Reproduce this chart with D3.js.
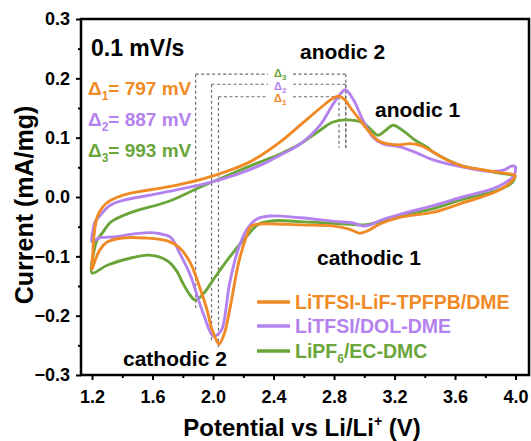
<!DOCTYPE html>
<html>
<head>
<meta charset="utf-8">
<script src="https://cdn.jsdelivr.net/npm/d3@7"></script>
<style>
    html, body { margin: 0; padding: 0; background: #fff; }
    svg text { font-family: "Liberation Sans", Arial, sans-serif; font-weight: bold; }
</style>
</head>
<body>
<div class="cv-graph"></div>
<script>
// series names and colours
const seriesNames = ["LiTFSI-LiF-TPFPB/DME", "LiTFSI/DOL-DME", "LiPF6/EC-DMC"];
const colors = ["#F08A24", "#B482EE", "#6AA53A"];

// cathodic scan, 4.0 V -> 1.2 V  [potential (V), current (mA/mg)]
const orangeCathodic = [
    [4.00, 0.037], [3.98, 0.028], [3.88, 0.010], [3.65, -0.010], [3.45, -0.026],
    [3.24, -0.034], [3.10, -0.046], [3.03, -0.056], [2.97, -0.061], [2.90, -0.054],
    [2.80, -0.049], [2.58, -0.047], [2.36, -0.045], [2.29, -0.046], [2.25, -0.050],
    [2.22, -0.067], [2.17, -0.110], [2.11, -0.190], [2.075, -0.230], [2.04, -0.248],
    [2.02, -0.240], [1.99, -0.221], [1.96, -0.190], [1.91, -0.151], [1.85, -0.111],
    [1.78, -0.086], [1.70, -0.074], [1.55, -0.069], [1.40, -0.069], [1.30, -0.076],
    [1.25, -0.090], [1.22, -0.107], [1.20, -0.122]
];
// anodic scan, 1.2 V -> 4.0 V
const orangeAnodic = [
    [1.20, -0.122], [1.205, -0.095], [1.215, -0.060], [1.235, -0.033], [1.27, -0.017],
    [1.32, -0.006], [1.43, 0.005], [1.70, 0.017], [1.91, 0.029], [2.10, 0.044],
    [2.25, 0.060], [2.44, 0.092], [2.58, 0.122], [2.71, 0.150], [2.79, 0.166],
    [2.83, 0.170], [2.87, 0.164], [2.91, 0.150], [2.97, 0.130], [3.04, 0.108],
    [3.10, 0.094], [3.17, 0.089], [3.24, 0.088], [3.30, 0.090], [3.37, 0.087],
    [3.44, 0.078], [3.55, 0.062], [3.65, 0.052], [3.78, 0.046], [3.88, 0.042],
    [3.96, 0.039], [4.00, 0.037]
];

const purpleCathodic = [
    [4.00, 0.052], [3.99, 0.036], [3.88, 0.017], [3.65, 0.000], [3.45, -0.015],
    [3.24, -0.029], [3.10, -0.040], [3.04, -0.047], [2.99, -0.049], [2.93, -0.044],
    [2.80, -0.041], [2.58, -0.035], [2.38, -0.032], [2.29, -0.037], [2.22, -0.056],
    [2.165, -0.089], [2.11, -0.145], [2.06, -0.222], [2.03, -0.232], [2.00, -0.234],
    [1.975, -0.224], [1.95, -0.207], [1.91, -0.178], [1.85, -0.132], [1.78, -0.095],
    [1.72, -0.068], [1.65, -0.062], [1.58, -0.060], [1.45, -0.063], [1.36, -0.067],
    [1.25, -0.069], [1.20, -0.075]
];
const purpleAnodic = [
    [1.20, -0.075], [1.205, -0.058], [1.22, -0.042], [1.25, -0.032], [1.32, -0.014],
    [1.40, -0.006], [1.58, 0.003], [1.80, 0.014], [2.00, 0.026], [2.20, 0.042],
    [2.35, 0.058], [2.44, 0.070], [2.58, 0.090], [2.71, 0.122], [2.79, 0.155],
    [2.85, 0.176], [2.875, 0.181], [2.93, 0.163], [2.99, 0.130], [3.06, 0.100],
    [3.12, 0.090], [3.24, 0.084], [3.35, 0.074], [3.46, 0.062], [3.68, 0.049],
    [3.85, 0.043], [3.93, 0.046], [3.97, 0.052], [4.00, 0.052]
];

const greenCathodic = [
    [4.00, 0.037], [3.98, 0.025], [3.88, 0.011], [3.65, -0.004], [3.45, -0.020],
    [3.24, -0.032], [3.10, -0.042], [3.00, -0.047], [2.85, -0.045], [2.60, -0.042],
    [2.40, -0.040], [2.30, -0.046], [2.22, -0.067], [2.11, -0.101], [2.00, -0.140],
    [1.94, -0.162], [1.885, -0.174], [1.85, -0.166], [1.80, -0.145], [1.76, -0.125],
    [1.70, -0.108], [1.58, -0.098], [1.47, -0.102], [1.30, -0.115], [1.20, -0.128]
];
const greenAnodic = [
    [1.20, -0.128], [1.21, -0.095], [1.235, -0.072], [1.27, -0.060], [1.32, -0.043],
    [1.47, -0.025], [1.70, -0.008], [1.91, 0.016], [2.13, 0.040], [2.30, 0.058],
    [2.44, 0.072], [2.58, 0.090], [2.71, 0.113], [2.79, 0.126], [2.88, 0.130],
    [2.99, 0.125], [3.05, 0.112], [3.09, 0.104], [3.14, 0.112], [3.19, 0.121],
    [3.25, 0.113], [3.33, 0.097], [3.42, 0.083], [3.46, 0.075], [3.65, 0.052],
    [3.79, 0.045], [3.90, 0.040], [4.00, 0.037]
];

// peak separation markers: cathodic 2 / anodic 2 peak potentials
const deltaNames = ["1", "2", "3"];
const deltaValues = ["797", "887", "993"];
const cathodicPeaks = [2.036, 1.990, 1.885];
const anodicPeaks = [2.833, 2.877, 2.878];
const markerLevels = [0.169, 0.190, 0.207];     // height of the dashed bridge
const markerBottoms = [-0.254, -0.244, -0.187]; // lower end of cathodic guide

// axis ticks
const xTicks = [1.2, 1.6, 2.0, 2.4, 2.8, 3.2, 3.6, 4.0];
const xMinor = [1.4, 1.8, 2.2, 2.6, 3.0, 3.4, 3.8];
const yTicks = [-0.3, -0.2, -0.1, 0.0, 0.1, 0.2, 0.3];
const yMinor = [-0.25, -0.15, -0.05, 0.05, 0.15, 0.25];

const width = 531;
const height = 441;
const margin = {left: 81, right: 2, top: 19, bottom: 66};
const font = '"Liberation Sans", Arial, sans-serif';

var svg = d3.select(".cv-graph").append("svg")
    .attr("width", width)
    .attr("height", height);

/* Scale */
var xScale = d3.scaleLinear()
    .domain([1.127, 4.089])
    .range([margin.left, width - margin.right]);

var yScale = d3.scaleLinear()
    .domain([-0.3, 0.3])
    .range([height - margin.bottom, margin.top]);

var line = d3.line()
    .x(d => xScale(d[0]))
    .y(d => yScale(d[1]))
    .curve(d3.curveCatmullRom.alpha(0.5));

/* Dashed guides */
var guides = svg.append("g")
    .attr("fill", "none")
    .attr("stroke", "#6d6d6d")
    .attr("stroke-width", 1.2)
    .attr("stroke-dasharray", "3,2.5");

const gapLeft = 268, gapRight = 293;
deltaNames.forEach(function(n, i) {
    const xc = xScale(cathodicPeaks[i]);
    const xa = xScale(anodicPeaks[i]);
    const yl = yScale(markerLevels[i]);
    guides.append("line")
        .attr("x1", xc).attr("x2", xc)
        .attr("y1", yl).attr("y2", yScale(markerBottoms[i]));
    guides.append("line")
        .attr("x1", xa).attr("x2", xa)
        .attr("y1", yl).attr("y2", yScale(0.083));
    guides.append("line")
        .attr("x1", xc).attr("x2", gapLeft)
        .attr("y1", yl).attr("y2", yl);
    guides.append("line")
        .attr("x1", gapRight).attr("x2", xa)
        .attr("y1", yl).attr("y2", yl);
});

/* CV loops */
const loops = [
    orangeCathodic.concat(orangeAnodic.slice(1)),
    purpleCathodic.concat(purpleAnodic.slice(1)),
    greenCathodic.concat(greenAnodic.slice(1))
];
const drawOrder = [2, 1, 0];

svg.append("g")
    .attr("class", "lines")
    .selectAll("path")
    .data(drawOrder).enter()
    .append("path")
    .attr("d", i => line(loops[i]))
    .attr("fill", "none")
    .attr("stroke", i => colors[i])
    .attr("stroke-width", 2.9)
    .attr("stroke-linejoin", "round");

/* Axes */
var xAxis = d3.axisBottom(xScale)
    .tickValues(xTicks)
    .tickFormat(d3.format(".1f"))
    .tickSize(5)
    .tickSizeOuter(0)
    .tickPadding(10);
var xAxisMinor = d3.axisBottom(xScale)
    .tickValues(xMinor)
    .tickFormat("")
    .tickSize(3)
    .tickSizeOuter(0);
var yAxis = d3.axisLeft(yScale)
    .tickValues(yTicks)
    .tickFormat(d3.format(".1f"))
    .tickSize(5)
    .tickSizeOuter(0)
    .tickPadding(6);
var yAxisMinor = d3.axisLeft(yScale)
    .tickValues(yMinor)
    .tickFormat("")
    .tickSize(3)
    .tickSizeOuter(0);

const axisBottomY = height - margin.bottom;
[xAxis, xAxisMinor].forEach(function(a) {
    svg.append("g")
        .attr("class", "x axis")
        .attr("transform", `translate(0, ${axisBottomY})`)
        .call(a);
});
[yAxis, yAxisMinor].forEach(function(a) {
    svg.append("g")
        .attr("class", "y axis")
        .attr("transform", `translate(${margin.left}, 0)`)
        .call(a);
});

svg.selectAll(".axis .domain").remove();
svg.selectAll(".axis line").attr("stroke", "#000").attr("stroke-width", 2);
svg.selectAll(".axis text")
    .attr("font-family", font)
    .attr("font-size", 18)
    .attr("font-weight", "bold")
    .attr("fill", "#000");

svg.append("rect")
    .attr("x", margin.left)
    .attr("y", margin.top)
    .attr("width", width - margin.right - margin.left)
    .attr("height", height - margin.bottom - margin.top)
    .attr("fill", "none")
    .attr("stroke", "#000")
    .attr("stroke-width", 2.5);

/* Axis titles */
var xTitle = svg.append("text")
    .attr("x", 302)
    .attr("y", 436)
    .attr("text-anchor", "middle")
    .attr("font-size", 24)
    .attr("fill", "#000");
xTitle.append("tspan").text("Potential vs Li/Li");
xTitle.append("tspan").attr("dy", -10).attr("font-size", 14).text("+");
xTitle.append("tspan").attr("dy", 10).text(" (V)");

svg.append("text")
    .attr("transform", "translate(33, 205) rotate(-90)")
    .attr("text-anchor", "middle")
    .attr("font-size", 25)
    .attr("fill", "#000")
    .text("Current (mA/mg)");

/* Annotations */
svg.append("text")
    .attr("x", 91).attr("y", 56)
    .attr("font-size", 23)
    .text("0.1 mV/s");

const notes = [
    {t: "anodic 2", x: 300, y: 59},
    {t: "anodic 1", x: 375, y: 117},
    {t: "cathodic 1", x: 317, y: 265},
    {t: "cathodic 2", x: 123, y: 366}
];
svg.selectAll(".note")
    .data(notes).enter()
    .append("text")
    .attr("class", "note")
    .attr("x", d => d.x)
    .attr("y", d => d.y)
    .attr("font-size", 21)
    .attr("fill", "#000")
    .text(d => d.t);

/* Delta values, left block */
const deltaRowY = [95, 126, 157];
deltaNames.forEach(function(n, i) {
    var t = svg.append("text")
        .attr("x", 88)
        .attr("y", deltaRowY[i])
        .attr("font-size", 19)
        .attr("fill", colors[i]);
    t.append("tspan").text("\u0394");
    t.append("tspan").attr("dy", 5).attr("font-size", 12).text(n);
    t.append("tspan").attr("dy", -5).text("= " + deltaValues[i] + " mV");
});

/* Delta labels on the dashed bridges */
const bridgeLabelY = [102, 89.5, 77];
deltaNames.forEach(function(n, i) {
    var t = svg.append("text")
        .attr("x", 274)
        .attr("y", bridgeLabelY[i])
        .attr("font-size", 11)
        .attr("font-weight", "normal")
        .attr("fill", colors[i]);
    t.append("tspan").text("\u0394");
    t.append("tspan").attr("dy", 3).attr("font-size", 8).text(n);
});

/* Legend */
const legendY = [302, 326, 351];
var legend = svg.append("g").attr("class", "legend");
seriesNames.forEach(function(name, i) {
    legend.append("line")
        .attr("x1", 257).attr("x2", 290)
        .attr("y1", legendY[i]).attr("y2", legendY[i])
        .attr("stroke", colors[i])
        .attr("stroke-width", 3.5);
    var t = legend.append("text")
        .attr("x", 295)
        .attr("y", legendY[i] + 7)
        .attr("font-size", 19.5)
        .attr("fill", colors[i]);
    if (name.indexOf("PF6") >= 0) {
        t.append("tspan").text("LiPF");
        t.append("tspan").attr("dy", 5).attr("font-size", 12).text("6");
        t.append("tspan").attr("dy", -5).text("/EC-DMC");
    } else {
        t.text(name);
    }
});
</script>
</body>
</html>
